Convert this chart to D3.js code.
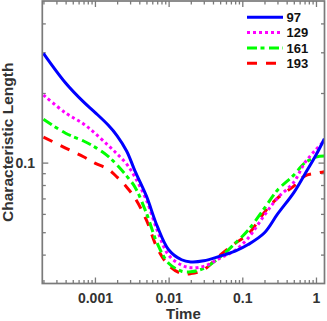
<!DOCTYPE html>
<html><head><meta charset="utf-8">
<script src="https://cdn.jsdelivr.net/npm/d3@7"></script>
<style>html,body{margin:0;padding:0;background:#fff;}svg{display:block;}</style>
</head><body>
<svg id="c" width="327" height="321"></svg>
<script>
const times = [2e-4, 4e-4, 7e-4, 1e-3, 1.5e-3, 2e-3, 2.7e-3, 3.5e-3, 5e-3, 7e-3, 0.01, 0.015, 0.02, 0.03, 0.05, 0.08, 0.12, 0.2, 0.3, 0.5, 0.7, 1.0, 1.3];
const len97  = [0.297,0.221,0.183,0.165,0.1457,0.1306,0.112,0.0919,0.0716,0.0531,0.042,0.038,0.0372,0.0376,0.0394,0.0414,0.0442,0.0497,0.0598,0.0742,0.0887,0.1078,0.1268];
const len129 = [0.196,0.164,0.147,0.134,0.119,0.109,0.0985,0.0865,0.0688,0.051,0.0398,0.036,0.0351,0.0356,0.0386,0.0418,0.0471,0.0593,0.0702,0.0823,0.0995,0.114,0.124];
const len161 = [0.154,0.134,0.124,0.1167,0.1067,0.0975,0.0874,0.0783,0.0604,0.0448,0.0367,0.0339,0.0337,0.0349,0.039,0.0448,0.051,0.0635,0.076,0.0883,0.0995,0.1056,0.1067];
const len193 = [0.129,0.1156,0.106,0.0995,0.0937,0.0865,0.0783,0.0702,0.0564,0.0427,0.036,0.0331,0.0331,0.0344,0.0398,0.0448,0.049,0.061,0.0702,0.0791,0.0874,0.090,0.0914];
const seriesNames = ["97", "129", "161", "193"];
const xMajorTicks = [0.001, 0.01, 0.1, 1];
const xTickLabels = ["0.001", "0.01", "0.1", "1"];
const yMajorTicks = [0.1];
const yTickLabels = ["0.1"];

const colors = ["#0000ff", "#ff00ff", "#00ff00", "#ff0000"];
const dashes = [null, "3,3", "10,3.5,4,4.5", "10,9"];
const seriesValues = [len97, len129, len161, len193];

const L = 42.3, R = 324.5, T = 1, B = 283.5;
const x = d3.scaleLog().domain([1.93e-4, 1.305]).range([L, R]);
const y = d3.scaleLog().domain([0.03, 0.5]).range([B, T]);

const svg = d3.select("#c");
const font = "'Liberation Sans', Arial, sans-serif";
const axisColor = "#7a7a7a";

svg.append("clipPath").attr("id", "clip").append("rect")
  .attr("x", L).attr("y", T).attr("width", R - L).attr("height", B - T);

// minor ticks
const xMinor = [];
for (let e = -4; e <= 0; e++) for (let m = 2; m <= 9; m++) {
  const v = m * Math.pow(10, e);
  if (v > x.domain()[0] && v < x.domain()[1]) xMinor.push(v);
}
const yMinor = [0.04,0.05,0.06,0.07,0.08,0.09,0.2,0.3,0.4];

function styleAxis(g) {
  g.select(".domain").remove();
  g.selectAll("line").attr("stroke", axisColor).attr("stroke-width", 1.3);
  g.selectAll("text").attr("fill", "#333").attr("font-family", font)
    .attr("font-size", 14).attr("font-weight", "bold");
}

// bottom
svg.append("g").attr("transform", `translate(0,${B})`)
  .call(d3.axisBottom(x).tickValues(xMinor).tickSizeInner(-3.5).tickSizeOuter(0).tickFormat(""))
  .call(styleAxis);
svg.append("g").attr("transform", `translate(0,${B})`)
  .call(d3.axisBottom(x).tickValues(xMajorTicks).tickSizeInner(-6).tickSizeOuter(0).tickPadding(9.5)
    .tickFormat((d, i) => xTickLabels[i]))
  .call(styleAxis);
// top
svg.append("g").attr("transform", `translate(0,${T})`)
  .call(d3.axisTop(x).tickValues(xMinor).tickSizeInner(-3.5).tickSizeOuter(0).tickFormat(""))
  .call(styleAxis);
svg.append("g").attr("transform", `translate(0,${T})`)
  .call(d3.axisTop(x).tickValues(xMajorTicks).tickSizeInner(-6).tickSizeOuter(0).tickFormat(""))
  .call(styleAxis);
// left
svg.append("g").attr("transform", `translate(${L},0)`)
  .call(d3.axisLeft(y).tickValues(yMinor).tickSizeInner(-3.5).tickSizeOuter(0).tickFormat(""))
  .call(styleAxis);
svg.append("g").attr("transform", `translate(${L},0)`)
  .call(d3.axisLeft(y).tickValues(yMajorTicks).tickSizeInner(-6).tickSizeOuter(0).tickPadding(7.3)
    .tickFormat((d, i) => yTickLabels[i]))
  .call(styleAxis);
// right
svg.append("g").attr("transform", `translate(${R},0)`)
  .call(d3.axisRight(y).tickValues(yMinor).tickSizeInner(-3.5).tickSizeOuter(0).tickFormat(""))
  .call(styleAxis);
svg.append("g").attr("transform", `translate(${R},0)`)
  .call(d3.axisRight(y).tickValues(yMajorTicks).tickSizeInner(-6).tickSizeOuter(0).tickFormat(""))
  .call(styleAxis);

// curves (drawn red first, blue last)
const line = d3.line().x(d => x(d[0])).y(d => y(d[1])).curve(d3.curveCatmullRom.alpha(0.5));
const plot = svg.append("g").attr("clip-path", "url(#clip)");
for (let s = seriesValues.length - 1; s >= 0; s--) {
  const pts = times.map((t, i) => [t, seriesValues[s][i]]);
  const p = plot.append("path").datum(pts).attr("d", line)
    .attr("fill", "none").attr("stroke", colors[s]).attr("stroke-width", 3);
  if (dashes[s]) p.attr("stroke-dasharray", dashes[s]);
}

// frame
svg.append("rect").attr("x", L).attr("y", T).attr("width", R - L).attr("height", B - T)
  .attr("fill", "none").attr("stroke", axisColor).attr("stroke-width", 1.7);

// legend
const legY0 = 17.3, legDy = 15.3;
seriesNames.forEach((n, i) => {
  const yy = legY0 + i * legDy;
  const l = svg.append("line").attr("x1", 247).attr("x2", 283).attr("y1", yy).attr("y2", yy)
    .attr("stroke", colors[i]).attr("stroke-width", 3);
  if (dashes[i]) l.attr("stroke-dasharray", dashes[i]);
  svg.append("text").attr("x", 286.5).attr("y", yy + 4.7).text(n)
    .attr("font-family", font).attr("font-size", 13).attr("font-weight", "bold").attr("fill", "#111");
});

// axis titles
svg.append("text").attr("x", (L + R) / 2).attr("y", 319).attr("text-anchor", "middle")
  .attr("font-family", font).attr("font-size", 15).attr("font-weight", "bold").attr("fill", "#333")
  .text("Time");
svg.append("text").attr("transform", `translate(13,${(T + B) / 2}) rotate(-90)`)
  .attr("text-anchor", "middle")
  .attr("font-family", font).attr("font-size", 15.5).attr("font-weight", "bold").attr("fill", "#333")
  .text("Characteristic Length");
</script>
</body></html>
